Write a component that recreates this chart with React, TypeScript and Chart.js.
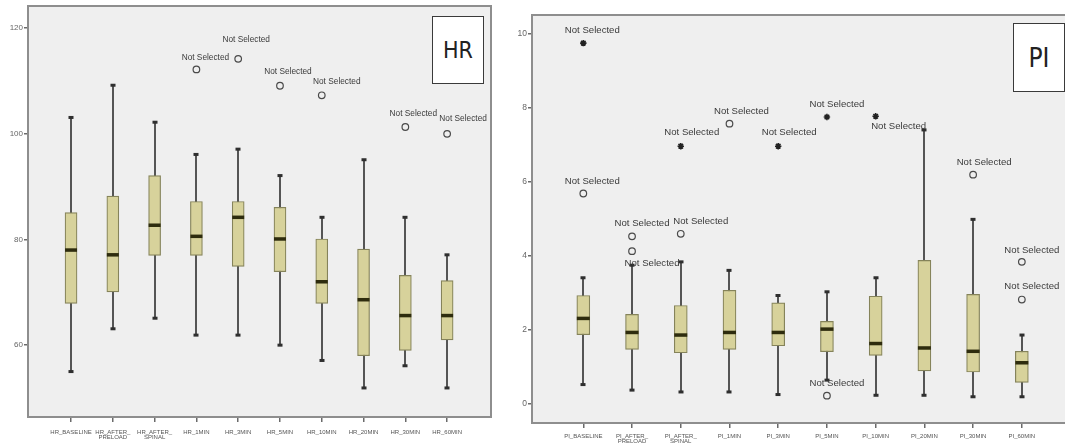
import React, { useEffect, useRef } from "react";
import { Chart, registerables } from "chart.js";
Chart.register(...registerables);

// ---------------- HR data ----------------
const hrTickLabels: string[][] = [
  ["HR_BASELINE"], ["HR_AFTER_", "PRELOAD"], ["HR_AFTER_", "SPINAL"], ["HR_1MIN"], ["HR_3MIN"],
  ["HR_5MIN"], ["HR_10MIN"], ["HR_20MIN"], ["HR_30MIN"], ["HR_60MIN"],
];
const hrWhiskerLow = [55.0, 63.1, 65.1, 61.9, 61.9, 60.0, 57.1, 51.9, 56.1, 51.9];
const hrQ1 = [67.9, 70.1, 77.0, 77.0, 74.9, 73.9, 67.9, 58.0, 59.0, 61.0];
const hrMedian = [78.0, 77.1, 82.7, 80.6, 84.2, 80.1, 72.0, 68.6, 65.6, 65.6];
const hrQ3 = [85.1, 88.2, 92.1, 87.2, 87.2, 86.1, 80.1, 78.2, 73.2, 72.2];
const hrWhiskerHigh = [103.1, 109.2, 102.2, 96.1, 97.1, 92.1, 84.2, 95.1, 84.2, 77.1];
const hrOutlierIndex = [3, 4, 5, 6, 8, 9];
const hrOutlierValue = [112.2, 114.2, 109.1, 107.3, 101.3, 100.0];
const hrOutlierKind = ["circle", "circle", "circle", "circle", "circle", "circle"];
const hrOutlierText = ["Not Selected", "Not Selected", "Not Selected", "Not Selected", "Not Selected", "Not Selected"];
const hrYTicks = [60, 80, 100, 120];

// ---------------- PI data ----------------
const piTickLabels: string[][] = [
  ["PI_BASELINE"], ["PI_AFTER_", "PRELOAD"], ["PI_AFTER_", "SPINAL"], ["PI_1MIN"], ["PI_3MIN"],
  ["PI_5MIN"], ["PI_10MIN"], ["PI_20MIN"], ["PI_30MIN"], ["PI_60MIN"],
];
const piWhiskerLow = [0.51, 0.36, 0.31, 0.31, 0.24, 0.63, 0.22, 0.22, 0.18, 0.18];
const piQ1 = [1.86, 1.46, 1.37, 1.46, 1.56, 1.40, 1.30, 0.88, 0.85, 0.57];
const piMedian = [2.30, 1.92, 1.85, 1.92, 1.92, 2.01, 1.62, 1.50, 1.41, 1.10];
const piQ3 = [2.92, 2.41, 2.65, 3.06, 2.72, 2.22, 2.90, 3.87, 2.95, 1.41];
const piWhiskerHigh = [3.40, 3.74, 3.83, 3.60, 2.92, 3.02, 3.40, 7.40, 4.98, 1.85];
const piOutlierIndex = [0, 0, 1, 1, 2, 2, 3, 4, 5, 5, 6, 8, 9, 9];
const piOutlierValue = [9.75, 5.68, 4.52, 4.12, 6.96, 4.59, 7.57, 6.96, 7.75, 0.21, 7.77, 6.19, 3.83, 2.81];
const piOutlierKind = ["star", "circle", "circle", "circle", "star", "circle", "circle", "star", "star", "circle", "star", "circle", "circle", "circle"];
const piOutlierText = piOutlierIndex.map(() => "Not Selected");
const piYTicks = [0, 2, 4, 6, 8, 10];

// ---------------- styling (label offsets in px, not data) ----------------
const hrLabelOffsets = [[9, -12], [8, -19], [8, -14], [15, -14], [8, -13], [16, -15]];
const piLabelOffsets = [
  [9, -13], [9, -12], [10, -13], [20, 12], [11, -14], [20, -12], [12, -12],
  [11, -14], [10, -13], [10, -12], [23, 10], [11, -12], [10, -12], [10, -13],
];

type Cfg = {
  left: number; width: number; height: number;
  yAxisW: number; xAxisH: number; padTop: number; padRight: number;
  xMin: number; xMax: number; yMin: number; yMax: number;
  tickLabels: string[][]; wl: number[]; q1: number[]; med: number[]; q3: number[]; wh: number[];
  oi: number[]; ov: number[]; ok: string[]; ot: string[]; offs: number[][];
  yTicks: number[]; boxW: number; labelFont: number; yTickFont: number; xTickPad: number;
};

function BoxPanel({ cfg }: { cfg: Cfg }) {
  const ref = useRef<HTMLCanvasElement>(null);
  useEffect(() => {
    const canvas = ref.current!;
    const boxData = cfg.tickLabels.map((_, i) => ({ x: i, y: [cfg.q1[i], cfg.q3[i]] }));
    const circles: any[] = [];
    const stars: any[] = [];
    cfg.oi.forEach((idx, k) => {
      const p = { x: idx, y: cfg.ov[k] };
      if (cfg.ok[k] === "star") stars.push(p); else circles.push(p);
    });

    const parts = {
      id: "boxparts",
      beforeDraw(chart: any) {
        const { ctx, chartArea: a } = chart;
        ctx.save();
        ctx.fillStyle = "#efefef";
        ctx.fillRect(a.left, a.top, a.right - a.left, a.bottom - a.top);
        ctx.restore();
      },
      beforeDatasetsDraw(chart: any) {
        const { ctx } = chart;
        const xs = chart.scales.x, ys = chart.scales.y;
        ctx.save();
        cfg.tickLabels.forEach((_, i) => {
          const x = Math.round(xs.getPixelForValue(i));
          const yh = ys.getPixelForValue(cfg.wh[i]);
          const yl = ys.getPixelForValue(cfg.wl[i]);
          ctx.strokeStyle = "#555555";
          ctx.lineWidth = 2;
          ctx.beginPath();
          ctx.moveTo(x, yh);
          ctx.lineTo(x, yl);
          ctx.stroke();
          ctx.fillStyle = "#2f2f2f";
          ctx.fillRect(x - 2.5, yh - 1.5, 5, 3);
          ctx.fillRect(x - 2.5, yl - 1.5, 5, 3);
        });
        ctx.restore();
      },
      afterDatasetsDraw(chart: any) {
        const { ctx } = chart;
        const xs = chart.scales.x, ys = chart.scales.y;
        ctx.save();
        cfg.tickLabels.forEach((_, i) => {
          const x = xs.getPixelForValue(i);
          const ym = ys.getPixelForValue(cfg.med[i]);
          ctx.fillStyle = "#2e2c0e";
          ctx.fillRect(x - cfg.boxW / 2, ym - 1.75, cfg.boxW, 3.5);
        });
        ctx.fillStyle = "#3a3a3a";
        ctx.font = `${cfg.labelFont}px "Liberation Sans", Arial, sans-serif`;
        ctx.textAlign = "center";
        ctx.textBaseline = "middle";
        cfg.oi.forEach((idx, k) => {
          const x = xs.getPixelForValue(idx) + cfg.offs[k][0];
          const y = ys.getPixelForValue(cfg.ov[k]) + cfg.offs[k][1];
          ctx.fillText(cfg.ot[k], x, y);
        });
        ctx.restore();
      },
      afterDraw(chart: any) {
        const { ctx, chartArea: a } = chart;
        ctx.save();
        ctx.strokeStyle = "#8e8e8e";
        ctx.lineWidth = 2;
        ctx.strokeRect(a.left, a.top, a.right - a.left, a.bottom - a.top);
        ctx.restore();
      },
    };

    const chart = new Chart(canvas, {
      type: "bar",
      data: {
        datasets: [
          {
            type: "scatter",
            data: circles,
            pointStyle: "circle",
            pointRadius: 3.3,
            backgroundColor: "rgba(0,0,0,0)",
            borderColor: "#4a4a4a",
            borderWidth: 1.2,
          } as any,
          {
            type: "scatter",
            data: stars,
            pointStyle: "star",
            pointRadius: 3.2,
            backgroundColor: "#222",
            borderColor: "#222",
            borderWidth: 1.6,
          } as any,
          {
            type: "bar",
            data: boxData as any,
            backgroundColor: "#d7d29b",
            borderColor: "#85835a",
            borderWidth: 1.2,
            borderSkipped: false,
            barThickness: cfg.boxW,
          } as any,
        ],
      },
      options: {
        animation: false,
        responsive: false,
        devicePixelRatio: 1,
        layout: { padding: { top: cfg.padTop, right: cfg.padRight, left: 0, bottom: 0 } },
        plugins: { legend: { display: false }, tooltip: { enabled: false } },
        scales: {
          x: {
            type: "linear",
            min: cfg.xMin,
            max: cfg.xMax,
            offset: false,
            border: { display: false },
            grid: { display: true, offset: false, drawOnChartArea: false, drawTicks: true, tickLength: 5, color: "#6a6a6a", lineWidth: 1.5 },
            ticks: {
              autoSkip: false,
              maxRotation: 0,
              minRotation: 0,
              padding: cfg.xTickPad,
              color: "#555",
              font: { size: 6, family: "'Liberation Sans', Arial, sans-serif", lineHeight: 0.95 },
              callback: (v: any) => cfg.tickLabels[Math.round(Number(v))] as any,
            },
            afterBuildTicks: (s: any) => { s.ticks = cfg.tickLabels.map((_, i) => ({ value: i })); },
            afterFit: (s: any) => { s.height = cfg.xAxisH; },
          },
          y: {
            type: "linear",
            min: cfg.yMin,
            max: cfg.yMax,
            beginAtZero: false,
            border: { display: false },
            grid: { display: true, drawOnChartArea: false, drawTicks: true, tickLength: 4, color: "#6a6a6a", lineWidth: 1.5 },
            ticks: {
              padding: 1,
              color: "#666",
              font: { size: cfg.yTickFont, family: "'Liberation Sans', Arial, sans-serif" },
              callback: (v: any) => String(v),
            },
            afterBuildTicks: (s: any) => { s.ticks = cfg.yTicks.map((v) => ({ value: v })); },
            afterFit: (s: any) => { s.width = cfg.yAxisW; },
          },
        },
      } as any,
      plugins: [parts],
    });
    return () => chart.destroy();
  }, []);
  return (
    <canvas
      ref={ref}
      width={cfg.width}
      height={cfg.height}
      style={{ position: "absolute", left: cfg.left, top: 0, width: cfg.width, height: cfg.height }}
    />
  );
}

const hrCfg: Cfg = {
  left: 0, width: 500, height: 445, yAxisW: 28, xAxisH: 28, padTop: 6, padRight: 9,
  xMin: -1.03, xMax: 10.05, yMin: 46.4, yMax: 124.2,
  tickLabels: hrTickLabels, wl: hrWhiskerLow, q1: hrQ1, med: hrMedian, q3: hrQ3, wh: hrWhiskerHigh,
  oi: hrOutlierIndex, ov: hrOutlierValue, ok: hrOutlierKind, ot: hrOutlierText, offs: hrLabelOffsets,
  yTicks: hrYTicks, boxW: 12, labelFont: 8.3, yTickFont: 8, xTickPad: 7,
};

const piCfg: Cfg = {
  left: 500, width: 580, height: 445, yAxisW: 32, xAxisH: 22, padTop: 15, padRight: 7,
  xMin: -1.053, xMax: 10.05, yMin: -0.53, yMax: 10.51,
  tickLabels: piTickLabels, wl: piWhiskerLow, q1: piQ1, med: piMedian, q3: piQ3, wh: piWhiskerHigh,
  oi: piOutlierIndex, ov: piOutlierValue, ok: piOutlierKind, ot: piOutlierText, offs: piLabelOffsets,
  yTicks: piYTicks, boxW: 13, labelFont: 9.6, yTickFont: 8.5, xTickPad: 5,
};

const tagStyle = (left: number, top: number, w: number, h: number, fs: number): React.CSSProperties => ({
  position: "absolute",
  left,
  top,
  width: w,
  height: h,
  boxSizing: "border-box",
  border: "1.5px solid #3a3a3a",
  background: "#ffffff",
  display: "flex",
  alignItems: "center",
  justifyContent: "center",
  fontFamily: "'Liberation Sans Narrow', 'DejaVu Sans Condensed', 'Liberation Sans', sans-serif",
  fontSize: fs,
  color: "#222",
});

export default function App() {
  return (
    <div style={{ position: "absolute", left: 0, top: 0, width: 1065, height: 445, overflow: "hidden", background: "#fff" }}>
      <BoxPanel cfg={hrCfg} />
      <BoxPanel cfg={piCfg} />
      <div style={tagStyle(432, 16, 52, 68, 23)}>HR</div>
      <div style={tagStyle(1013, 23, 52, 69, 26)}>PI</div>
    </div>
  );
}
